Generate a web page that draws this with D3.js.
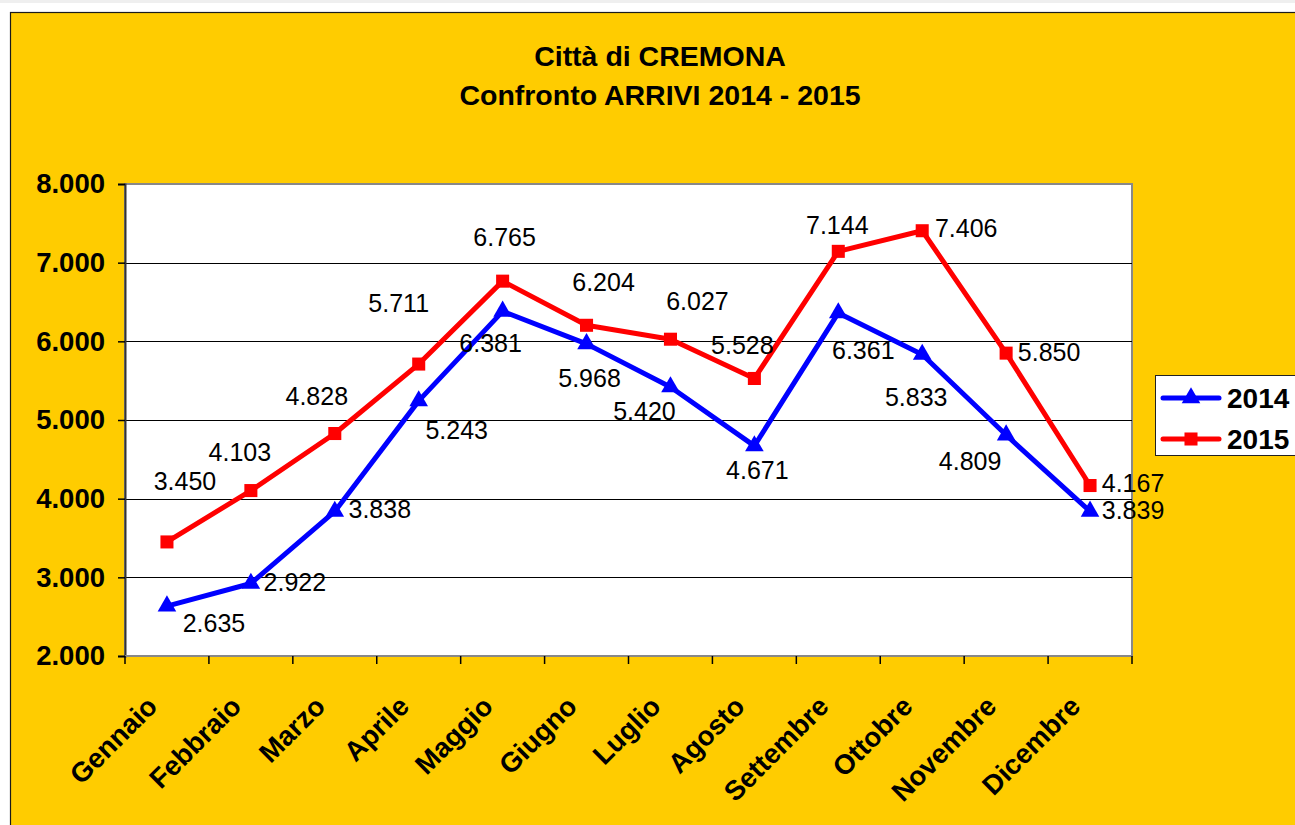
<!DOCTYPE html>
<html>
<head>
<meta charset="utf-8">
<script src="https://cdn.jsdelivr.net/npm/d3@7"></script>
<style>
  body { margin: 0; background: #fff; }
  text { font-family: "Liberation Sans", Arial, sans-serif; }
</style>
</head>
<body>
<div id="chart"></div>
<script>
///////// data //////////
const months = ["Gennaio", "Febbraio", "Marzo", "Aprile", "Maggio", "Giugno",
  "Luglio", "Agosto", "Settembre", "Ottobre", "Novembre", "Dicembre"];
const arrivi2014 = [2635, 2922, 3838, 5243, 6381, 5968, 5420, 4671, 6361, 5833, 4809, 3839];
const arrivi2015 = [3450, 4103, 4828, 5711, 6765, 6204, 6027, 5528, 7144, 7406, 5850, 4167];
const yTicks = [2000, 3000, 4000, 5000, 6000, 7000, 8000];
const titleLines = ["Città di CREMONA", "Confronto ARRIVI 2014 - 2015"];

// label placement (dx, dy from the point), as Excel put them
const lab2014 = [[47,17],[44,-1],[45,-2],[38,29],[-12,32],[3,34],[-26,24],[3,24],[25,37],[-6,43],[-36,26],[43,-1]];
const lab2015 = [[18,-61],[-11,-38],[-18,-37],[-20,-61],[2,-44],[17,-43],[27,-38],[-12,-33],[-1,-26],[44,-2],[43,-1],[43,-2]];

const W = 1295, H = 825;
const plot = {left: 125, top: 184, right: 1132, bottom: 656};
const fmt = v => d3.format(",")(v).replace(/,/g, ".");

const svg = d3.select("#chart").append("svg")
  .attr("width", W).attr("height", H);

// page top line + chart frame
svg.append("rect").attr("x", 0).attr("y", 0).attr("width", W).attr("height", 3).attr("fill", "#efefef");
svg.append("rect").attr("x", 10.5).attr("y", 12.5).attr("width", W).attr("height", H)
  .attr("fill", "#FFCC00").attr("stroke", "#1a1a1a").attr("stroke-width", 1.2);

// titles
svg.selectAll(".title").data(titleLines).enter().append("text")
  .attr("x", 660).attr("y", (d, i) => 66 + i * 39)
  .attr("text-anchor", "middle").attr("font-size", 28.5).attr("font-weight", "bold")
  .text(d => d);

const x = d3.scaleBand().domain(months).range([plot.left, plot.right]);
const y = d3.scaleLinear().domain([2000, 8000]).range([plot.bottom, plot.top]);
const cx = m => x(m) + x.bandwidth() / 2;

// plot area
svg.append("rect").attr("x", plot.left).attr("y", plot.top)
  .attr("width", plot.right - plot.left).attr("height", plot.bottom - plot.top)
  .attr("fill", "#fff").attr("stroke", "#888").attr("stroke-width", 2);

// grid
svg.selectAll(".grid").data(yTicks.slice(1, -1)).enter().append("line")
  .attr("x1", plot.left).attr("x2", plot.right)
  .attr("y1", d => Math.round(y(d)) + 0.5).attr("y2", d => Math.round(y(d)) + 0.5)
  .attr("stroke", "#000").attr("stroke-width", 1);

// y axis
const yAxis = svg.append("g").attr("transform", `translate(${plot.left},0)`)
  .call(d3.axisLeft(y).tickValues(yTicks).tickSize(7).tickPadding(13).tickFormat(fmt));
yAxis.select(".domain").attr("stroke", "#333").attr("stroke-width", 2);
yAxis.selectAll(".tick line").attr("stroke", "#000").attr("stroke-width", 1.5);
yAxis.selectAll("text").attr("font-size", 27.5).attr("font-weight", "bold").attr("fill", "#000")
  .attr("font-family", "Liberation Sans, Arial, sans-serif");

// x axis (ticks at category boundaries)
const bounds = months.map(m => x(m)).concat([plot.right]);
const xAxis = svg.append("g").attr("transform", `translate(0,${plot.bottom})`);
xAxis.append("line").attr("x1", plot.left).attr("x2", plot.right)
  .attr("stroke", "#888").attr("stroke-width", 2);
xAxis.selectAll(".tk").data(bounds).enter().append("line")
  .attr("x1", d => d).attr("x2", d => d).attr("y1", 0).attr("y2", 8)
  .attr("stroke", "#000").attr("stroke-width", 1.5);
xAxis.selectAll(".lbl").data(months).enter().append("text")
  .attr("transform", d => `translate(${cx(d) - 8},${52}) rotate(-45)`)
  .attr("text-anchor", "end").attr("font-size", 27.5).attr("font-weight", "bold")
  .text(d => d);

// series
const series = [
  {name: "2014", values: arrivi2014, color: "#0000FF", shape: d3.symbolTriangle, labs: lab2014},
  {name: "2015", values: arrivi2015, color: "#FF0000", shape: d3.symbolSquare, labs: lab2015}
];
const line = d3.line().x((d, i) => cx(months[i])).y(d => y(d));

for (let s of series) {
  const g = svg.append("g");
  g.append("path").attr("d", line(s.values)).attr("fill", "none")
    .attr("stroke", s.color).attr("stroke-width", 5).attr("stroke-linejoin", "round");
  g.selectAll("path.m").data(s.values).enter().append("path").attr("class", "m")
    .attr("d", d3.symbol().type(s.shape).size(s.shape === d3.symbolSquare ? 170 : 150))
    .attr("transform", (d, i) => `translate(${cx(months[i])},${y(d)})`)
    .attr("fill", s.color);
  g.selectAll("text").data(s.values).enter().append("text")
    .attr("x", (d, i) => cx(months[i]) + s.labs[i][0])
    .attr("y", (d, i) => y(d) + s.labs[i][1])
    .attr("dy", "0.35em").attr("text-anchor", "middle").attr("font-size", 25)
    .text(d => fmt(d));
}

// legend
const lg = svg.append("g").attr("transform", "translate(1155,375)");
lg.append("rect").attr("x", 0.5).attr("y", 0.5).attr("width", 160).attr("height", 80)
  .attr("fill", "#fff").attr("stroke", "#222").attr("stroke-width", 1);
series.forEach((s, i) => {
  const yy = 23 + i * 41;
  lg.append("line").attr("x1", 8).attr("x2", 64).attr("y1", yy).attr("y2", yy)
    .attr("stroke", s.color).attr("stroke-width", 5).attr("stroke-linecap", "round");
  lg.append("path").attr("d", d3.symbol().type(s.shape).size(s.shape === d3.symbolSquare ? 170 : 150))
    .attr("transform", `translate(36,${yy})`).attr("fill", s.color);
  lg.append("text").attr("x", 72).attr("y", yy).attr("dy", "0.36em")
    .attr("font-size", 28).attr("font-weight", "bold").text(s.name);
});
</script>
</body>
</html>
